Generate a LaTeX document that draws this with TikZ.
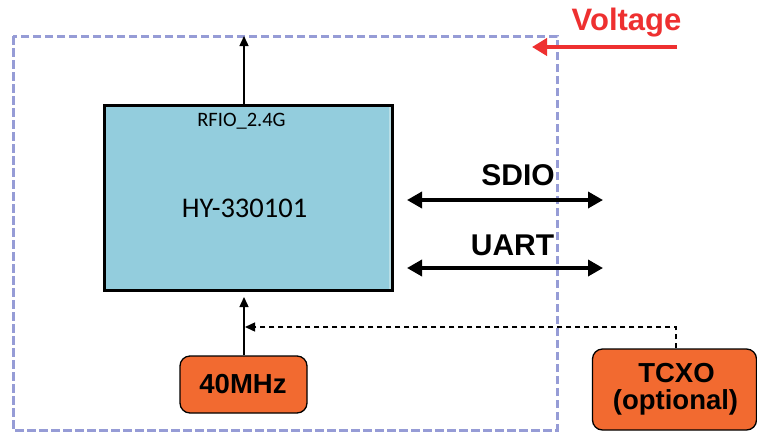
\documentclass[tikz,border=0pt]{standalone}
\usepackage{fontspec}
\setmainfont{Liberation Sans}
\newfontfamily\calibri{Carlito}
\usetikzlibrary{arrows.meta}
\definecolor{chipblue}{HTML}{93CDDD}
\definecolor{chipstrip}{HTML}{B8DEE6}
\definecolor{oscorange}{HTML}{F26A30}
\definecolor{boxlav}{HTML}{969CD6}
\definecolor{voltred}{HTML}{EE3030}
\begin{document}
\begin{tikzpicture}[x=1pt,y=-1pt,
  chipbox/.style={draw=black,line width=2pt,fill=chipblue,minimum width=287pt,minimum height=184pt,inner sep=0pt},
  oscbox/.style={draw=black,line width=1.3pt,fill=oscorange,rounded corners=10pt,inner sep=0pt},
  bigbold/.style={font=\bfseries\fontsize{30}{34}\selectfont},
  oscfont/.style={font=\bfseries\fontsize{27.5}{31}\selectfont},
  thinarrow/.style={line width=1.4pt,-{Triangle[length=10pt,width=9pt]}},
  busarrow/.style={line width=3.5pt,{Triangle[length=15pt,width=16pt]}-{Triangle[length=15pt,width=16pt]}},
  lbl/.style={anchor=base,inner sep=0pt}]
\useasboundingbox (0,0) rectangle (757,432);
\fill[white] (0,0) rectangle (757,432);

% dashed enclosure
\draw[boxlav,line width=3pt,dash pattern=on 8.5pt off 3.5pt] (13,36) rectangle (557,430);

% chip
\node[chipbox] (chip) at (248,198) {};
\fill[chipstrip] (388.5,107) rectangle (391,289);
\draw[line width=2pt] (chip.south west) rectangle (chip.north east);
\node[lbl,font=\calibri\fontsize{20.5}{24}\selectfont] (rfio) at (241.5,126) {RFIO\_2.4G};
\node[lbl,font=\calibri\fontsize{28.5}{32}\selectfont] (chipname) at (244.5,217) {HY-330101};

% RF output arrow
\coordinate (rfout) at (244,36);
\draw[thinarrow] (rfout |- chip.north) -- (rfout);

% buses
\coordinate (sdioL) at (407,200);
\coordinate (sdioR) at (603,200);
\coordinate (uartL) at (407,268);
\coordinate (uartR) at (603,268);
\draw[busarrow] (sdioL) -- (sdioR);
\draw[busarrow] (uartL) -- (uartR);
\node[lbl,bigbold] (sdio) at (518,185) {SDIO};
\node[lbl,bigbold] (uart) at (512.5,255) {UART};

% 40 MHz oscillator
\node[oscbox,minimum width=127pt,minimum height=57pt] (osc) at (243.5,384.5) {};
\node[lbl,oscfont] (osctext) at (243,393) {40MHz};
\coordinate (clkin) at (244,297);
\draw[thinarrow] (osc.north -| clkin) -- (clkin);

% TCXO
\node[oscbox,minimum width=164pt,minimum height=81pt] (tcxo) at (674.5,389.5) {};
\node[lbl,oscfont] (tcxo1) at (676.5,382) {TCXO};
\node[lbl,oscfont] (tcxo2) at (675.5,409) {(optional)};
\coordinate (tcxobend) at (676,327);
\coordinate (tcxoin) at (245,327);
\draw[line width=1.4pt,dash pattern=on 5pt off 4pt,-{Triangle[length=10pt,width=9pt]}]
  (tcxobend |- tcxo.north) -- (tcxobend) -- (tcxoin);

% Voltage
\node[lbl,font=\bfseries\fontsize{31}{35}\selectfont,text=voltred] (volt) at (626.5,30) {Voltage};
\coordinate (voltS) at (677,47);
\coordinate (voltE) at (532,47);
\draw[voltred,line width=4pt,-{Triangle[length=15pt,width=17pt]}] (voltS) -- (voltE);
\end{tikzpicture}
\end{document}
